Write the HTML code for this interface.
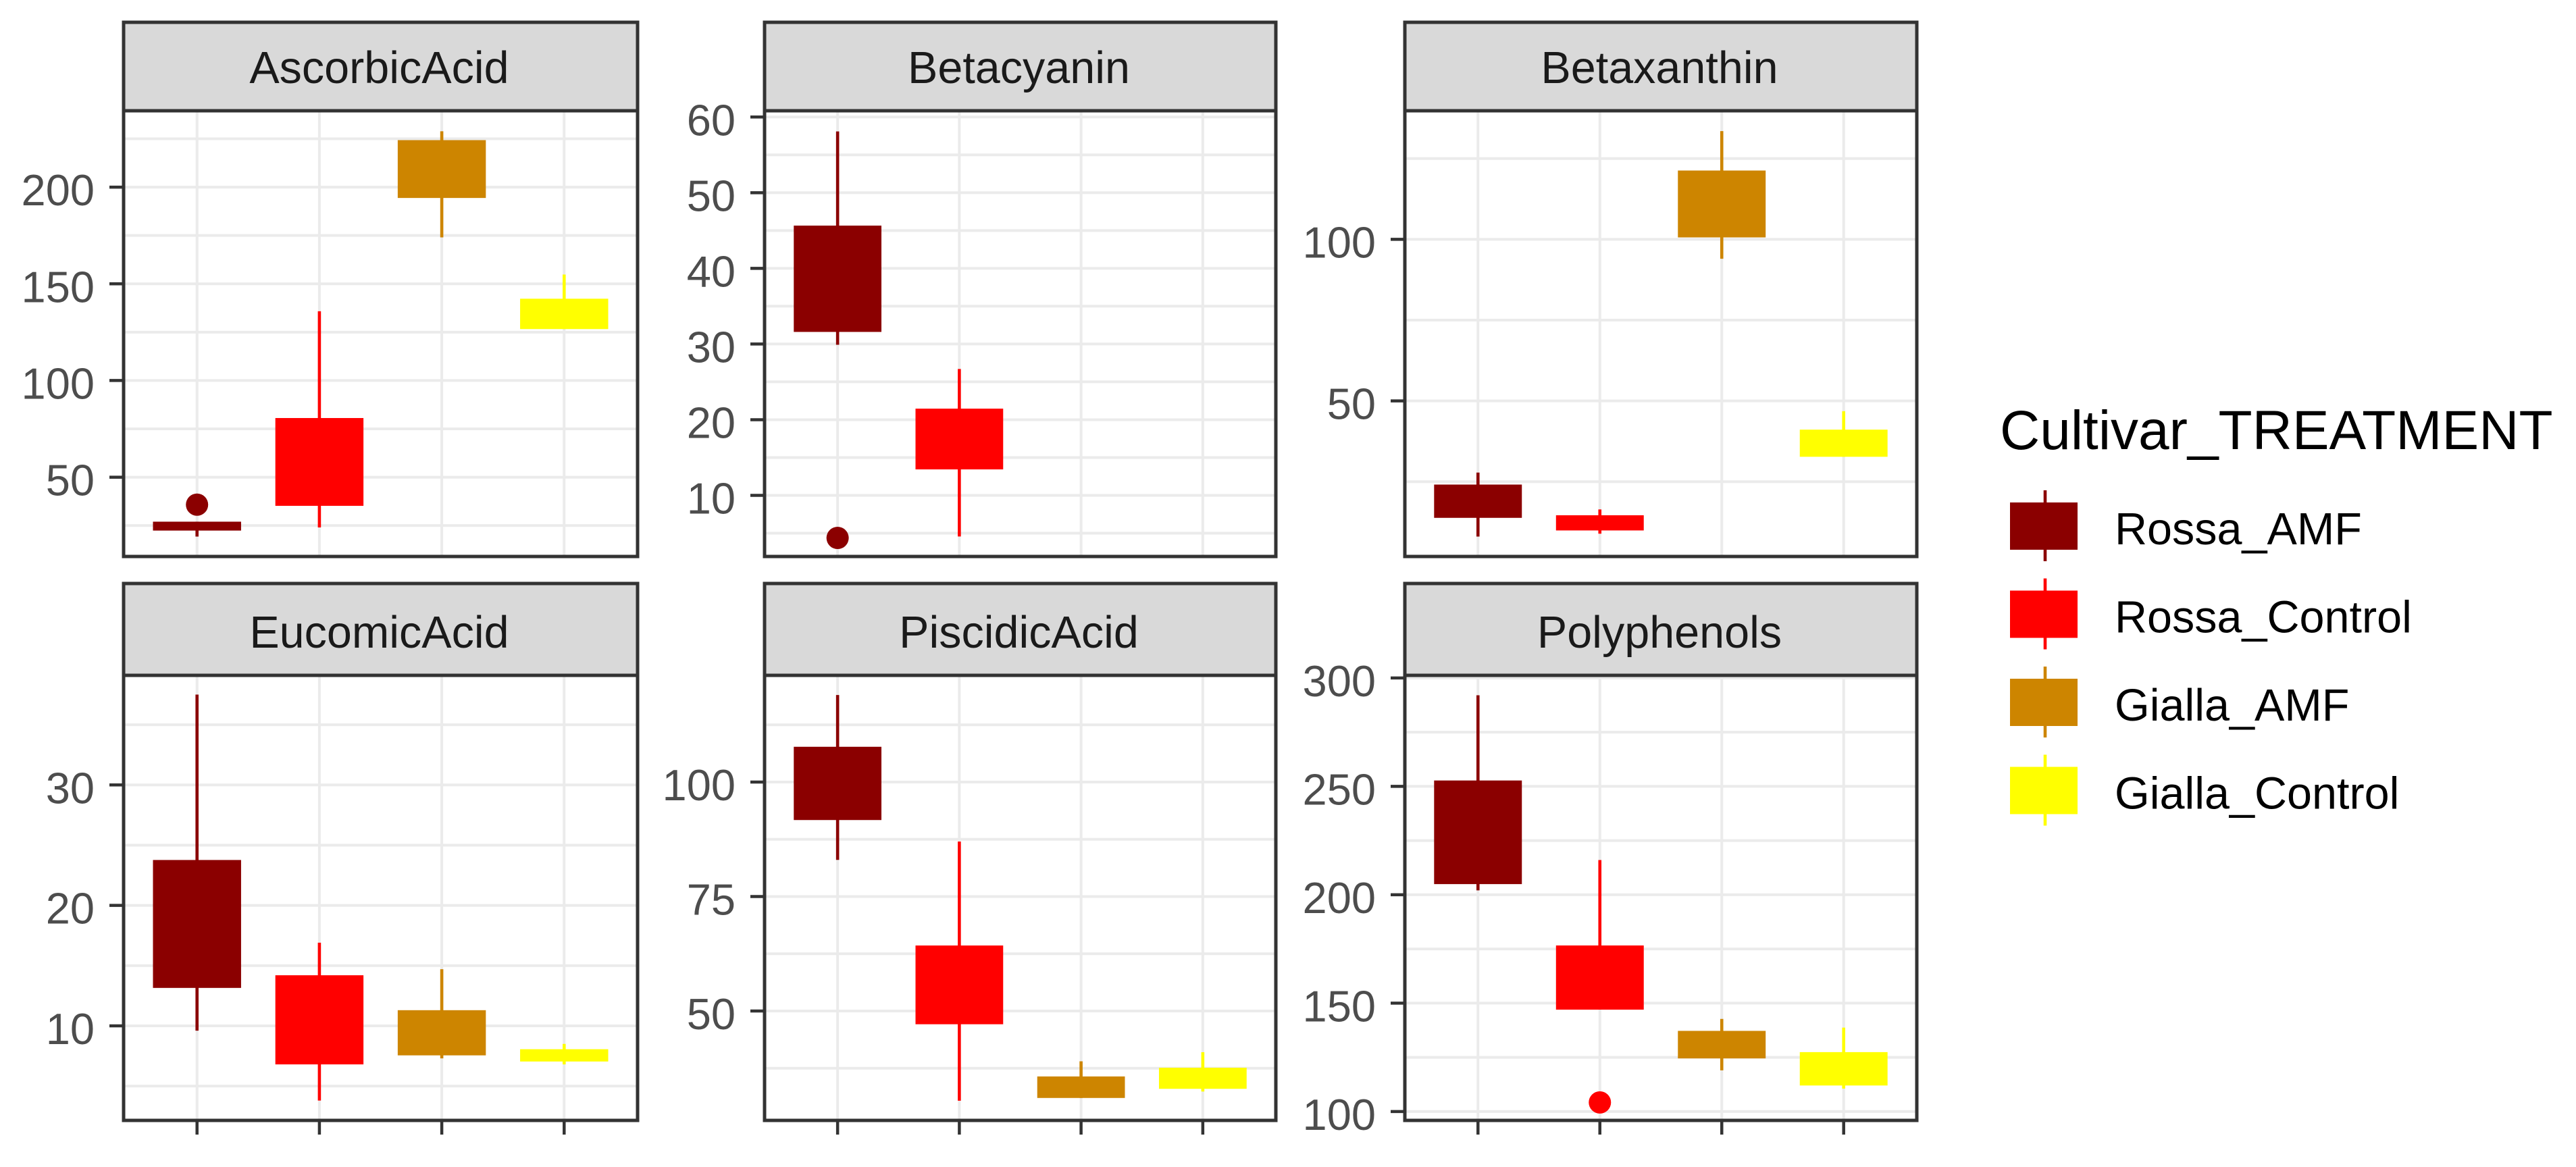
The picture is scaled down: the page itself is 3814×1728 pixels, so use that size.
<!DOCTYPE html>
<html lang="en">
<head>
<meta charset="utf-8">
<title>Cultivar treatment boxplots</title>
<style>
html,body{margin:0;padding:0;background:#fff;}
svg{display:block;}
text{font-family:"Liberation Sans",Arial,sans-serif;}
</style>
</head>
<body>
<svg id="chart" xmlns="http://www.w3.org/2000/svg" width="3814" height="1728" viewBox="0 0 3814 1728"></svg>
<script>
// ---- categories and series colours ----
const categories = ["Rossa_AMF", "Rossa_Control", "Gialla_AMF", "Gialla_Control"];
const colors = ["#8B0000", "#FF0000", "#CD8500", "#FFFF00"];
const legendTitle = "Cultivar_TREATMENT";

// ---- AscorbicAcid ----
const ascorbicDomain = [9, 239.5];
const ascorbicTicks = [50, 100, 150, 200];
const ascorbicLow = [19.3, 24, 174, 126.6];
const ascorbicQ1 = [22.4, 35.2, 194.4, 126.6];
const ascorbicQ3 = [27, 80.6, 224.3, 142.3];
const ascorbicHigh = [27, 135.8, 228.9, 154.8];
const ascorbicOutliers = [35.8, null, null, null];

// ---- Betacyanin ----
const betacyaninDomain = [1.92, 60.83];
const betacyaninTicks = [10, 20, 30, 40, 50, 60];
const betacyaninLow = [29.9, 4.56, null, null];
const betacyaninQ1 = [31.6, 13.43, null, null];
const betacyaninQ3 = [45.65, 21.46, null, null];
const betacyaninHigh = [58.1, 26.7, null, null];
const betacyaninOutliers = [4.37, null, null, null];

// ---- Betaxanthin ----
const betaxanthinDomain = [1.84, 139.8];
const betaxanthinTicks = [50, 100];
const betaxanthinLow = [8, 8.9, 94, 32.7];
const betaxanthinQ1 = [13.8, 9.9, 100.6, 32.7];
const betaxanthinQ3 = [24.1, 14.6, 121.3, 41.1];
const betaxanthinHigh = [27.8, 16.4, 133.5, 46.8];
const betaxanthinOutliers = [null, null, null, null];

// ---- EucomicAcid ----
const eucomicDomain = [2.15, 39.1];
const eucomicTicks = [10, 20, 30];
const eucomicLow = [9.6, 3.8, 7.3, 6.8];
const eucomicQ1 = [13.15, 6.8, 7.55, 7.04];
const eucomicQ3 = [23.77, 14.2, 11.3, 8.06];
const eucomicHigh = [37.5, 16.9, 14.7, 8.5];
const eucomicOutliers = [null, null, null, null];

// ---- PiscidicAcid ----
const piscidicDomain = [26.1, 123.3];
const piscidicTicks = [50, 75, 100];
const piscidicLow = [83, 30.4, 31, 32.4];
const piscidicQ1 = [91.7, 47.1, 31, 33];
const piscidicQ3 = [107.7, 64.3, 35.7, 37.6];
const piscidicHigh = [119, 87, 39, 41];
const piscidicOutliers = [null, null, null, null];

// ---- Polyphenols ----
const polyphenolsDomain = [95.9, 301.2];
const polyphenolsTicks = [100, 150, 200, 250, 300];
const polyphenolsLow = [202, 147, 119, 110.6];
const polyphenolsQ1 = [204.9, 147, 124.5, 112];
const polyphenolsQ3 = [252.7, 176.6, 137.2, 127.4];
const polyphenolsHigh = [292, 216, 142.7, 138.7];
const polyphenolsOutliers = [null, 104.2, null, null];

const facets = [
  {title:"AscorbicAcid", domain:ascorbicDomain, ticks:ascorbicTicks, low:ascorbicLow, q1:ascorbicQ1, q3:ascorbicQ3, high:ascorbicHigh, out:ascorbicOutliers},
  {title:"Betacyanin", domain:betacyaninDomain, ticks:betacyaninTicks, low:betacyaninLow, q1:betacyaninQ1, q3:betacyaninQ3, high:betacyaninHigh, out:betacyaninOutliers},
  {title:"Betaxanthin", domain:betaxanthinDomain, ticks:betaxanthinTicks, low:betaxanthinLow, q1:betaxanthinQ1, q3:betaxanthinQ3, high:betaxanthinHigh, out:betaxanthinOutliers},
  {title:"EucomicAcid", domain:eucomicDomain, ticks:eucomicTicks, low:eucomicLow, q1:eucomicQ1, q3:eucomicQ3, high:eucomicHigh, out:eucomicOutliers},
  {title:"PiscidicAcid", domain:piscidicDomain, ticks:piscidicTicks, low:piscidicLow, q1:piscidicQ1, q3:piscidicQ3, high:piscidicHigh, out:piscidicOutliers},
  {title:"Polyphenols", domain:polyphenolsDomain, ticks:polyphenolsTicks, low:polyphenolsLow, q1:polyphenolsQ1, q3:polyphenolsQ3, high:polyphenolsHigh, out:polyphenolsOutliers}
];

// ---- layout ----
const colEdges = [[183, 944], [1132, 1889], [2080, 2838]];
const rowEdges = [{top:33, strip:164, bottom:824}, {top:864, strip:1000, bottom:1659}];
const svg = document.getElementById("chart");
const NS = "http://www.w3.org/2000/svg";

function make(tag, attrs, parent) {
  const el = document.createElementNS(NS, tag);
  for (const k in attrs) el.setAttribute(k, attrs[k]);
  (parent || svg).appendChild(el);
  return el;
}
function slug(s) { return s.toLowerCase().replace(/_/g, "-"); }

facets.forEach(function (f, idx) {
  const col = colEdges[idx % 3];
  const row = rowEdges[Math.floor(idx / 3)];
  const left = col[0], right = col[1], top = row.strip, bottom = row.bottom;
  const name = slug(f.title);
  const xScale = function (i) { return left + (i + 0.6) / 4.2 * (right - left); };
  const yScale = function (v) { return bottom - (v - f.domain[0]) / (f.domain[1] - f.domain[0]) * (bottom - top); };
  const boxW = 0.72 * (right - left) / 4.2;

  const g = make("g", {});
  
  

  const bg = make("rect", {x:left, y:top, width:right-left, height:bottom-top, fill:"#fff"}, g);
  
  

  // gridlines
  const step = f.ticks.length > 1 ? f.ticks[1] - f.ticks[0] : 50;
  for (let m = f.ticks[0] - step / 2; m < f.domain[1]; m += step) {
    if (m <= f.domain[0]) continue;
    const line = make("line", {x1:left, x2:right, y1:yScale(m), y2:yScale(m), stroke:"#EBEBEB", "stroke-width":4}, g);
    
    
  }
  f.ticks.forEach(function (t) {
    const line = make("line", {x1:left, x2:right, y1:yScale(t), y2:yScale(t), stroke:"#EBEBEB", "stroke-width":4}, g);
    
    
  });
  categories.forEach(function (c, i) {
    const line = make("line", {x1:xScale(i), x2:xScale(i), y1:top, y2:bottom, stroke:"#EBEBEB", "stroke-width":4}, g);
    
    
  });

  // boxes
  categories.forEach(function (c, i) {
    if (f.q1[i] === null) {
      return;
    }
    const x = xScale(i);
    const whisker = make("line", {x1:x, x2:x, y1:yScale(f.high[i]), y2:yScale(f.low[i]), stroke:colors[i], "stroke-width":4.6}, g);
    
    
    const box = make("rect", {x:x-boxW/2, y:yScale(f.q3[i]), width:boxW, height:yScale(f.q1[i])-yScale(f.q3[i]), fill:colors[i]}, g);
    
    
  });
  categories.forEach(function (c, i) {
    if (f.out[i] === null) {
      return;
    }
    const pt = make("circle", {cx:xScale(i), cy:yScale(f.out[i]), r:16.5, fill:colors[i]}, g);
    
    
  });

  // frame and strip
  const strip = make("rect", {x:left, y:row.top, width:right-left, height:row.strip-row.top, fill:"#D9D9D9", stroke:"#333333", "stroke-width":5}, g);
  
  
  const stripText = make("text", {x:(left+right)/2-2, y:row.strip-41, "text-anchor":"middle", "font-size":66.5, fill:"#1A1A1A"}, g);
  stripText.textContent = f.title;
  
  
  const frame = make("rect", {x:left, y:top, width:right-left, height:bottom-top, fill:"none", stroke:"#333333", "stroke-width":5}, g);
  
  

  // y axis
  f.ticks.forEach(function (t) {
    const y = yScale(t);
    const tick = make("line", {x1:left-21, x2:left, y1:y, y2:y, stroke:"#333333", "stroke-width":4.5}, g);
    
    
    const label = make("text", {x:left-43, y:y+27, "text-anchor":"end", "font-size":65, fill:"#4D4D4D"}, g);
    label.textContent = String(t);
    
    
  });

  // x axis ticks (bottom row only)
  if (idx >= 3) {
    categories.forEach(function (c, i) {
      const tick = make("line", {x1:xScale(i), x2:xScale(i), y1:bottom, y2:bottom+21, stroke:"#333333", "stroke-width":4.5}, g);
      
      
    });
  }
});

// ---- legend ----
const legend = make("g", {});


const legendHead = make("text", {x:2961, y:665, "font-size":82, fill:"#000"}, legend);
legendHead.textContent = legendTitle;


const keyTop = 744, keyPitch = 130.5, keyH = 70;
categories.forEach(function (c, i) {
  const y = keyTop + i * keyPitch;
  const entry = make("g", {}, legend);
  
  
  const w = make("line", {x1:3028, x2:3028, y1:y-18, y2:y+keyH+17, stroke:colors[i], "stroke-width":4.6}, entry);
  
  
  const r = make("rect", {x:2976, y:y, width:100, height:keyH, fill:colors[i]}, entry);
  
  
  const t = make("text", {x:3131, y:y+62, "font-size":66.5, fill:"#000"}, entry);
  t.textContent = c;
  
  
});
</script>
</body>
</html>
